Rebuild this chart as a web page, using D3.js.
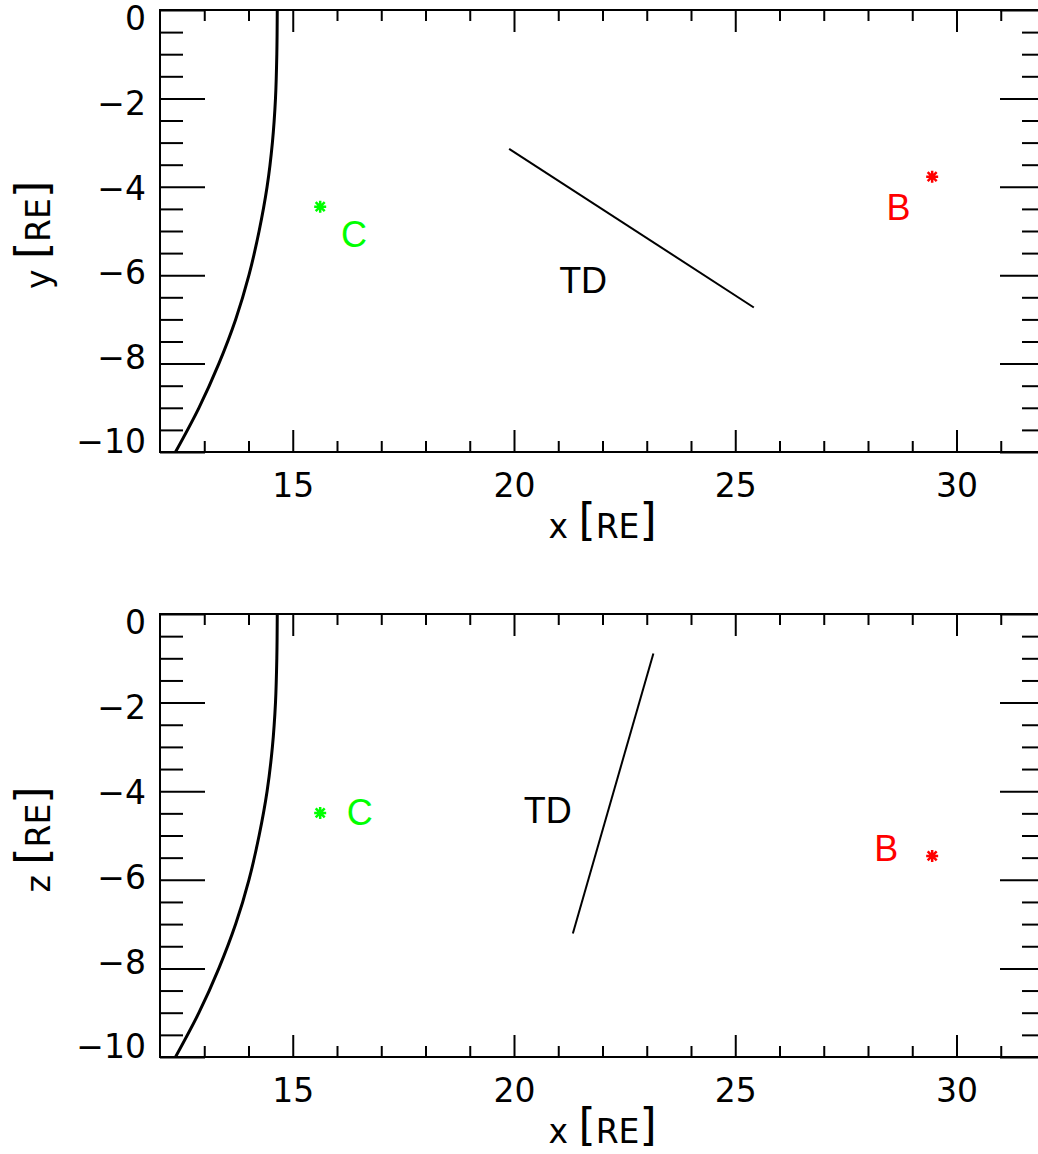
<!DOCTYPE html>
<html><head><meta charset="utf-8">
<script src="https://cdn.jsdelivr.net/npm/d3@7"></script>
<style>body{margin:0;background:#fff;overflow:hidden}svg{display:block}</style>
</head><body>
<svg id="chart" width="1038" height="1154"></svg>
<script>
// ---- data ----
const xMajorTicks = [15, 20, 25, 30];
const yMajorTicks = [0, -2, -4, -6, -8, -10];
const xDomain = [12, 32];
const yDomain = [0, -10];

// boundary curve (same in both panels): coordinate along vertical axis and x
const boundaryV = [0, -1, -2, -3, -4, -5, -6, -7, -8, -9, -10];
const boundaryX = [14.65, 14.64, 14.61, 14.54, 14.42, 14.24, 14.01, 13.71, 13.33, 12.88, 12.35];

// TD line segments
const tdXYx = [19.89, 25.42];
const tdXYy = [-3.14, -6.73];
const tdXZx = [23.15, 21.33];
const tdXZz = [-0.89, -7.21];
const tdLabelXY = [21.02, -6.40];
const tdLabelXZ = [20.22, -4.71];

// spacecraft
const scNames = ["C", "B"];
const scColors = ["#00ff00", "#ff0000"];
const scX = [15.62, 29.45];
const scY = [-4.45, -3.77];
const scZ = [-4.49, -5.46];
const scLabelXYx = [16.09, 28.42];
const scLabelXYy = [-5.36, -4.75];
const scLabelXZx = [16.22, 28.14];
const scLabelXZz = [-4.76, -5.57];

// ---- drawing ----
const svg = d3.select("#chart");
const tickFont = "DejaVu Sans, sans-serif";
const labFont = "Liberation Sans, Arial, sans-serif";

function panel(cfg) {
  const g = svg.append("g");
  const x = d3.scaleLinear().domain(xDomain).range([160, 1045]);
  const y = d3.scaleLinear().domain(yDomain).range([cfg.top, cfg.bottom]);
  const yLab = d3.scaleLinear().domain(yDomain).range([cfg.top + 8.5, cfg.bottom - 10.5]);

  const xMinor = d3.range(13, 32, 1).filter(v => v % 5 !== 0);
  const yMinor = d3.range(0, -10.01, -0.5).filter(v => Math.abs(v % 2) > 0.01);

  function styleAxis(sel) {
    sel.select(".domain").remove();
    sel.selectAll(".tick line").attr("stroke", "#000").attr("stroke-width", 2);
  }
  // bottom axis
  g.append("g").attr("transform", `translate(0,${cfg.bottom})`)
    .call(d3.axisBottom(x).tickValues(xMajorTicks).tickSizeInner(-22).tickSizeOuter(0).tickPadding(21.5).tickFormat(d3.format("d")))
    .call(styleAxis)
    .call(s => s.selectAll("text").attr("font-family", tickFont).attr("font-size", 33).attr("fill", "#000"));
  g.append("g").attr("transform", `translate(0,${cfg.bottom})`)
    .call(d3.axisBottom(x).tickValues(xMinor).tickSizeInner(-11).tickSizeOuter(0).tickFormat(""))
    .call(styleAxis);
  // top axis
  g.append("g").attr("transform", `translate(0,${cfg.top})`)
    .call(d3.axisBottom(x).tickValues(xMajorTicks).tickSizeInner(22).tickSizeOuter(0).tickFormat(""))
    .call(styleAxis);
  g.append("g").attr("transform", `translate(0,${cfg.top})`)
    .call(d3.axisBottom(x).tickValues(xMinor).tickSizeInner(11).tickSizeOuter(0).tickFormat(""))
    .call(styleAxis);
  // left axis
  g.append("g").attr("transform", `translate(160,0)`)
    .call(d3.axisLeft(y).tickValues(yMajorTicks).tickSizeInner(-45).tickSizeOuter(0).tickFormat(""))
    .call(styleAxis);
  g.append("g").attr("transform", `translate(160,0)`)
    .call(d3.axisLeft(y).tickValues(yMinor).tickSizeInner(-23).tickSizeOuter(0).tickFormat(""))
    .call(styleAxis);
  // right axis
  g.append("g").attr("transform", `translate(1045,0)`)
    .call(d3.axisRight(y).tickValues(yMajorTicks).tickSizeInner(-45).tickSizeOuter(0).tickFormat(""))
    .call(styleAxis);
  g.append("g").attr("transform", `translate(1045,0)`)
    .call(d3.axisRight(y).tickValues(yMinor).tickSizeInner(-23).tickSizeOuter(0).tickFormat(""))
    .call(styleAxis);
  // y tick labels
  g.append("g").selectAll("text").data(yMajorTicks).join("text")
    .attr("x", 146).attr("y", d => yLab(d)).attr("dy", "0.36em")
    .attr("text-anchor", "end").attr("font-family", tickFont).attr("font-size", 33)
    .text(d => d === 0 ? "0" : "\u2212" + Math.abs(d));

  // frame
  g.append("rect").attr("x", 160).attr("y", cfg.top).attr("width", 885).attr("height", cfg.bottom - cfg.top)
    .attr("fill", "none").attr("stroke", "#000").attr("stroke-width", 2);

  // clip
  const cid = "clip" + cfg.id;
  svg.append("clipPath").attr("id", cid).append("rect")
    .attr("x", 160).attr("y", cfg.top).attr("width", 885).attr("height", cfg.bottom - cfg.top);
  const plot = g.append("g").attr("clip-path", `url(#${cid})`);

  // boundary
  plot.append("path")
    .datum(boundaryV.map((v, i) => [boundaryX[i], v]))
    .attr("d", d3.line().x(d => x(d[0])).y(d => y(d[1])).curve(d3.curveMonotoneY))
    .attr("fill", "none").attr("stroke", "#000").attr("stroke-width", 3);

  // TD line
  plot.append("path")
    .datum(cfg.tdX.map((v, i) => [v, cfg.tdV[i]]))
    .attr("d", d3.line().x(d => x(d[0])).y(d => y(d[1])))
    .attr("fill", "none").attr("stroke", "#000").attr("stroke-width", 2);
  g.append("text").attr("x", x(cfg.tdLabel[0])).attr("y", y(cfg.tdLabel[1]))
    .attr("font-family", labFont).attr("font-size", 36).attr("fill", "#000").text("TD");

  // spacecraft stars
  const r = 6;
  const star = `M${-r},0L${r},0M0,${-r}L0,${r}M${-r*0.75},${-r*0.75}L${r*0.75},${r*0.75}M${-r*0.75},${r*0.75}L${r*0.75},${-r*0.75}`;
  plot.selectAll("path.star").data(scNames).join("path").attr("class", "star")
    .attr("transform", (d, i) => `translate(${x(scX[i])},${y(cfg.scV[i])})`)
    .attr("d", star).attr("fill", "none").attr("stroke", (d, i) => scColors[i]).attr("stroke-width", 2.5);
  g.selectAll("text.sc").data(scNames).join("text").attr("class", "sc")
    .attr("x", (d, i) => x(cfg.labX[i])).attr("y", (d, i) => y(cfg.labV[i]))
    .attr("font-family", labFont).attr("font-size", 36).attr("fill", (d, i) => scColors[i]).text(d => d);

  // axis titles
  function title(sel, letter) {
    sel.attr("font-family", tickFont).attr("font-size", 33).attr("fill", "#000");
    sel.append("tspan").text(letter + " ");
    sel.append("tspan").attr("font-size", 44).attr("dy", -3).text("[");
    sel.append("tspan").attr("dy", 3).text("RE");
    sel.append("tspan").attr("font-size", 44).attr("dy", -3).text("]");
  }
  g.append("text").attr("x", (x.range()[0] + x.range()[1]) / 2).attr("y", cfg.bottom + 86)
    .attr("text-anchor", "middle").call(title, "x");
  g.append("text").attr("transform", `translate(50,${(cfg.top + cfg.bottom) / 2 + 4}) rotate(-90)`)
    .attr("text-anchor", "middle").call(title, cfg.vName);
}

panel({id: 1, top: 10, bottom: 452, vName: "y", tdX: tdXYx, tdV: tdXYy, tdLabel: tdLabelXY,
       scV: scY, labX: scLabelXYx, labV: scLabelXYy});
panel({id: 2, top: 614, bottom: 1057, vName: "z", tdX: tdXZx, tdV: tdXZz, tdLabel: tdLabelXZ,
       scV: scZ, labX: scLabelXZx, labV: scLabelXZz});
</script>
</body></html>
